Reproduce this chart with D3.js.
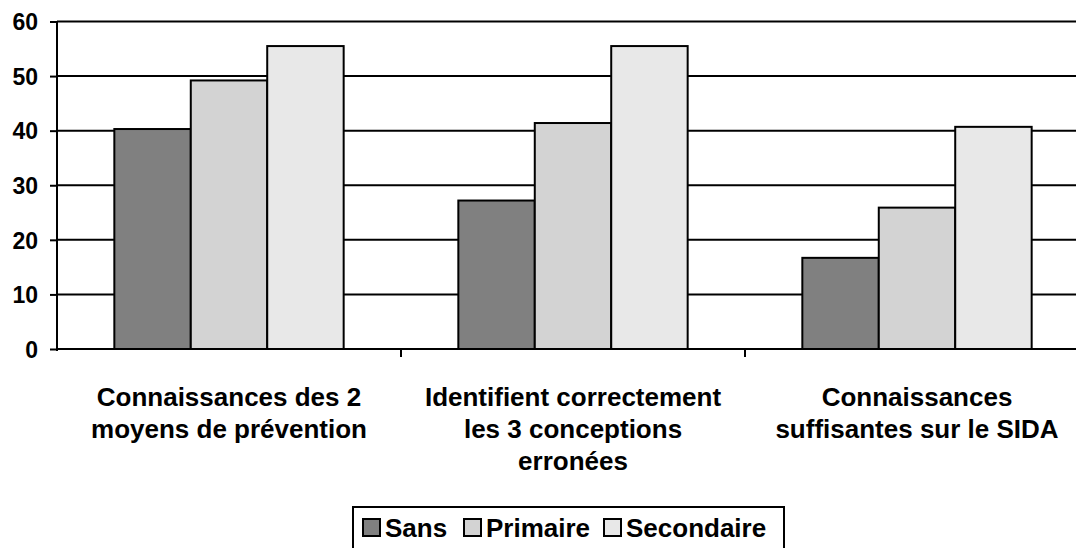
<!DOCTYPE html>
<html>
<head>
<meta charset="utf-8">
<script src="https://cdn.jsdelivr.net/npm/d3@7"></script>
<style>
  html, body { margin: 0; padding: 0; background: #fff; overflow: hidden; }
  text { font-family: "Liberation Sans", Arial, sans-serif; font-weight: bold; fill: #000; }
</style>
</head>
<body>
<svg id="chart" width="1076" height="548"></svg>
<script>
const categories = [
  ["Connaissances des 2", "moyens de prévention"],
  ["Identifient correctement", "les 3 conceptions", "erronées"],
  ["Connaissances", "suffisantes sur le SIDA"]
];
const seriesNames = ["Sans", "Primaire", "Secondaire"];
const sans = [40.3, 27.2, 16.7];
const primaire = [49.2, 41.4, 25.9];
const secondaire = [55.5, 55.5, 40.7];
const yTicks = [0, 10, 20, 30, 40, 50, 60];
const colors = ["#808080", "#d3d3d3", "#e8e8e8"];

const seriesValues = [sans, primaire, secondaire];
const catKeys = categories.map((c, i) => "c" + i);

const svg = d3.select("#chart");
const mLeft = 57, mRight = 1089, mTop = 21.5, mBottom = 349;

const y = d3.scaleLinear().domain([0, 60]).range([mBottom, mTop]);
const x0 = d3.scaleBand().domain(catKeys).range([mLeft, mRight])
  .paddingInner(1/3).paddingOuter(1/6);
const x1 = d3.scaleBand().domain(seriesNames).range([0, x0.bandwidth()]);
const xStep = d3.scaleLinear().domain([0, 3]).range([mLeft, mRight]);

// gridlines
svg.append("g").selectAll("line").data(yTicks.filter(d => d > 0)).join("line")
  .attr("x1", mLeft).attr("x2", 1076)
  .attr("y1", d => y(d)).attr("y2", d => y(d))
  .attr("stroke", "#000").attr("stroke-width", 2);

// bars
const groups = svg.append("g").selectAll("g").data(catKeys).join("g")
  .attr("transform", d => `translate(${x0(d)},0)`);
groups.selectAll("rect")
  .data((d, i) => seriesNames.map((s, j) => ({ s, j, v: seriesValues[j][i] })))
  .join("rect")
  .attr("x", d => x1(d.s))
  .attr("y", d => y(d.v))
  .attr("width", x1.bandwidth())
  .attr("height", d => y(0) - y(d.v))
  .attr("fill", d => colors[d.j])
  .attr("stroke", "#000").attr("stroke-width", 2);

// y axis
const yAxis = d3.axisLeft(y).tickValues(yTicks).tickSize(7).tickPadding(12);
const gy = svg.append("g").attr("transform", `translate(${mLeft},0)`).call(yAxis);
gy.select(".domain").attr("stroke-width", 2).attr("d", `M0,${mTop}V${mBottom + 2}`);
gy.selectAll(".tick line").attr("stroke-width", 2);
gy.selectAll(".tick text").style("font-size", "23px").attr("dy", "0.36em")
  .style("font-family", '"Liberation Sans", Arial, sans-serif').style("font-weight", "bold");

// x axis line and tick marks at category boundaries
svg.append("line").attr("x1", mLeft - 1).attr("x2", 1076)
  .attr("y1", mBottom).attr("y2", mBottom)
  .attr("stroke", "#000").attr("stroke-width", 2);
svg.append("g").selectAll("line").data([1, 2]).join("line")
  .attr("x1", d => xStep(d)).attr("x2", d => xStep(d))
  .attr("y1", mBottom).attr("y2", mBottom + 8)
  .attr("stroke", "#000").attr("stroke-width", 2);

// category labels
const lbl = svg.append("g").selectAll("text").data(categories).join("text")
  .attr("x", (d, i) => x0(catKeys[i]) + x0.bandwidth() / 2)
  .attr("y", 406)
  .attr("text-anchor", "middle")
  .style("font-size", "26px");
lbl.selectAll("tspan").data(d => d).join("tspan")
  .attr("x", function() { return this.parentNode.getAttribute("x"); })
  .attr("dy", (d, i) => i === 0 ? 0 : 32)
  .text(d => d);

// legend
const lg = svg.append("g");
lg.append("rect").attr("x", 353).attr("y", 507).attr("width", 431).attr("height", 60)
  .attr("fill", "#fff").attr("stroke", "#000").attr("stroke-width", 2);
const legendX = [362, 463, 603];
const li = lg.selectAll("g.item").data(seriesNames).join("g").attr("class", "item")
  .attr("transform", (d, i) => `translate(${legendX[i]},0)`);
li.append("rect").attr("x", 1).attr("y", 519).attr("width", 17).attr("height", 17)
  .attr("fill", (d, i) => colors[i]).attr("stroke", "#000").attr("stroke-width", 2);
li.append("text").attr("x", 23).attr("y", 537).style("font-size", "26px").text(d => d);
</script>
</body>
</html>
